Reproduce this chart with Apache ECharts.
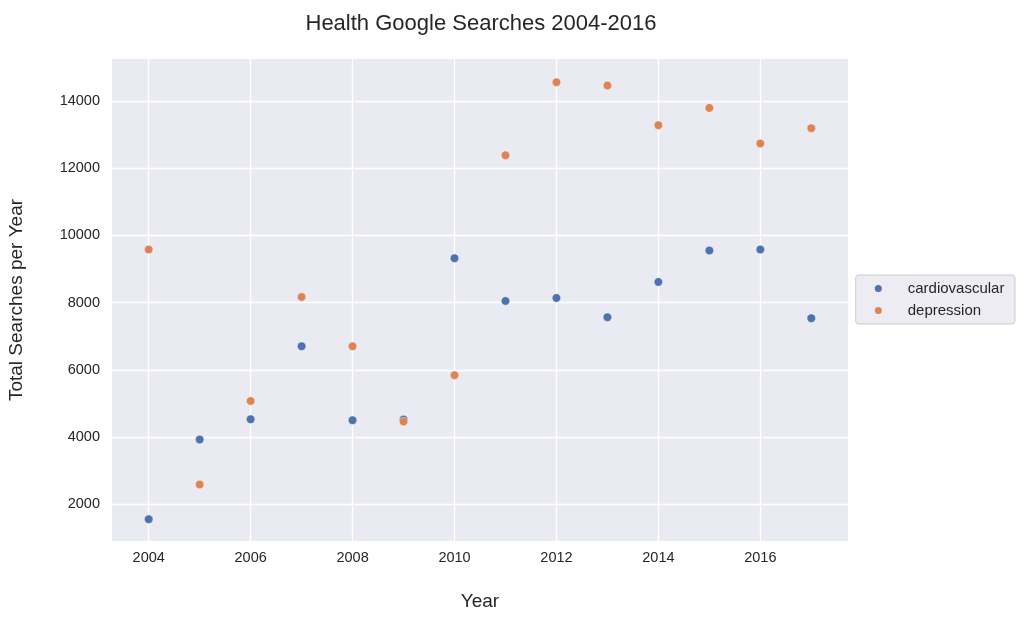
<!DOCTYPE html>
<html>
<head>
<meta charset="utf-8">
<style>
  body,
  html {
    overflow: hidden;
    width: 100%;
    height: 100%;
    margin: 0;
    padding: 0;
    background: #fff;
  }
  .chart-wrapper {
    position: relative;
    width: 1025px;
    height: 625px;
  }
</style>
</head>
<body>
<div id="chart-wrapper" class="chart-wrapper"></div>

<script src="https://cdn.jsdelivr.net/npm/echarts@6/dist/echarts.min.js"></script>

<script>
  // values
  const years = [2004, 2005, 2006, 2007, 2008, 2009, 2010, 2011, 2012, 2013, 2014, 2015, 2016, 2017];
  const cardiovascular = [1555, 3925, 4530, 6700, 4500, 4520, 9320, 8050, 8140, 7565, 8615, 9550, 9580, 7535];
  const depression = [9580, 2585, 5075, 8170, 6700, 4460, 5840, 12385, 14560, 14460, 13280, 13795, 12735, 13190];
  const xTicks = [2004, 2006, 2008, 2010, 2012, 2014, 2016];
  const yTicks = [2000, 4000, 6000, 8000, 10000, 12000, 14000];

  const font = '"Liberation Sans", Arial, sans-serif';
  const textColor = "#262626";

  const chartDom = document.getElementById("chart-wrapper");
  const chart = echarts.init(chartDom, null, { renderer: "canvas" });

  const toPoints = (vals) => years.map((y, i) => [y, vals[i]]);

  const option = {
    backgroundColor: "#ffffff",
    animation: false,
    textStyle: { fontFamily: font },
    title: {
      text: "Health Google Searches 2004-2016",
      left: 476,
      top: 8,
      textAlign: "center",
      textStyle: {
        fontFamily: font,
        fontSize: 22,
        fontWeight: "normal",
        color: textColor,
      },
    },
    legend: {
      orient: "vertical",
      left: 855.7,
      top: 275,
      // content box starts at the dot's left edge; wide icon box pushes the text right
      padding: [5.5, 10.6, 5.5, 19.1],
      itemWidth: 48.8,
      itemHeight: 7,
      itemGap: 6,
      icon: "circle",
      itemStyle: { borderWidth: 0 },
      backgroundColor: "#ececf2",
      borderColor: "#cccccc",
      borderWidth: 1,
      borderRadius: 3,
      textStyle: {
        fontFamily: font,
        fontSize: 15,
        lineHeight: 16,
        color: textColor,
      },
      data: ["cardiovascular", "depression"],
    },
    grid: {
      left: 112,
      right: 177,
      top: 59,
      bottom: 84,
      show: true,
      backgroundColor: "#eaeaf2",
      borderWidth: 0,
      containLabel: false,
      outerBoundsMode: "none",
    },
    xAxis: {
      type: "value",
      min: 2003.28,
      max: 2017.72,
      name: "Year",
      nameLocation: "middle",
      nameGap: 51,
      nameTextStyle: { fontFamily: font, fontSize: 19, color: textColor },
      axisLine: { show: false },
      axisTick: { show: false, customValues: xTicks },
      axisLabel: {
        customValues: xTicks,
        margin: 9,
        fontFamily: font,
        fontSize: 14.5,
        color: textColor,
        formatter: (v) => String(v),
      },
      splitLine: { show: true, lineStyle: { color: "#ffffff", width: 1.3 } },
    },
    yAxis: {
      type: "value",
      min: 905,
      max: 15250,
      name: "Total Searches per Year",
      nameLocation: "middle",
      nameGap: 86,
      nameTextStyle: { fontFamily: font, fontSize: 19, color: textColor },
      axisLine: { show: false },
      axisTick: { show: false, customValues: yTicks },
      axisLabel: {
        customValues: yTicks,
        margin: 12,
        fontFamily: font,
        fontSize: 14.5,
        color: textColor,
        formatter: (v) => String(v),
      },
      splitLine: { show: true, lineStyle: { color: "#ffffff", width: 1.3 } },
    },
    series: [
      {
        name: "cardiovascular",
        type: "scatter",
        symbolSize: 8.5,
        itemStyle: { color: "#4c72b0", borderColor: "#ffffff", borderWidth: 0.4, opacity: 1 },
        data: toPoints(cardiovascular),
      },
      {
        name: "depression",
        type: "scatter",
        symbolSize: 8.5,
        itemStyle: { color: "#dd8452", borderColor: "#ffffff", borderWidth: 0.4, opacity: 1 },
        data: toPoints(depression),
      },
    ],
  };

  chart.setOption(option);
</script>
</body>
</html>
